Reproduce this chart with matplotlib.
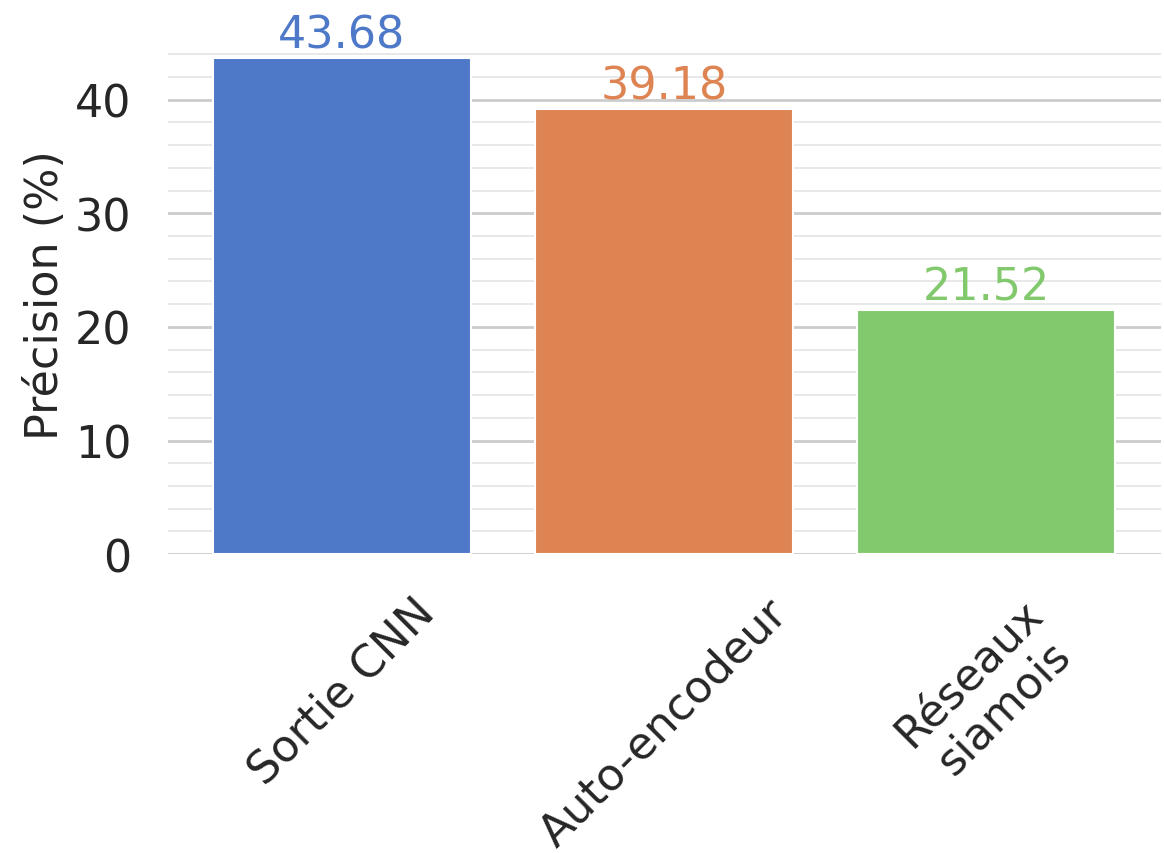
import matplotlib
matplotlib.use("Agg")
import matplotlib.pyplot as plt
import seaborn as sns
from matplotlib.ticker import MultipleLocator

categories = ["Sortie CNN", "Auto-encodeur", "Réseaux\nsiamois"]
values = [43.68, 39.18, 21.52]
colors = ["#4e78c8", "#dd8452", "#82c96e"]

sns.set_theme(style="whitegrid")
plt.rcParams['font.family'] = ['DejaVu Sans']

fig = plt.figure(figsize=(11.64, 8.54), dpi=100)
ax = fig.add_axes([0.144, 0.35, 0.853, 0.61])

x = list(range(len(categories)))
bars = ax.bar(x, values, width=0.8, color=colors, edgecolor="white", linewidth=1.5, zorder=3)
for xi, v, c in zip(x, values, colors):
    ax.text(xi, v + 0.1, f"{v:.2f}", ha="center", va="bottom", fontsize=32, color=c, zorder=4)

ax.set_xticks(x)
ax.set_xticklabels(categories, rotation=45, ha="center", fontsize=32, color="#262626")
ax.set_yticks([0, 10, 20, 30, 40])
ax.tick_params(axis="y", labelsize=32, labelcolor="#262626", pad=20)
ax.tick_params(axis="x", pad=20)
ax.yaxis.set_minor_locator(MultipleLocator(2))
ax.grid(which="major", axis="y", color="0.8", linewidth=2, zorder=0)
ax.grid(which="minor", axis="y", color="0.9", linewidth=1.3, zorder=0)
ax.grid(which="both", axis="x", visible=False)
ax.tick_params(which="minor", length=0)
for s in ax.spines.values():
    s.set_visible(False)
ax.set_ylabel("Précision (%)", fontsize=32, color="#262626", labelpad=6)

fig.savefig("out.png", dpi=100)
